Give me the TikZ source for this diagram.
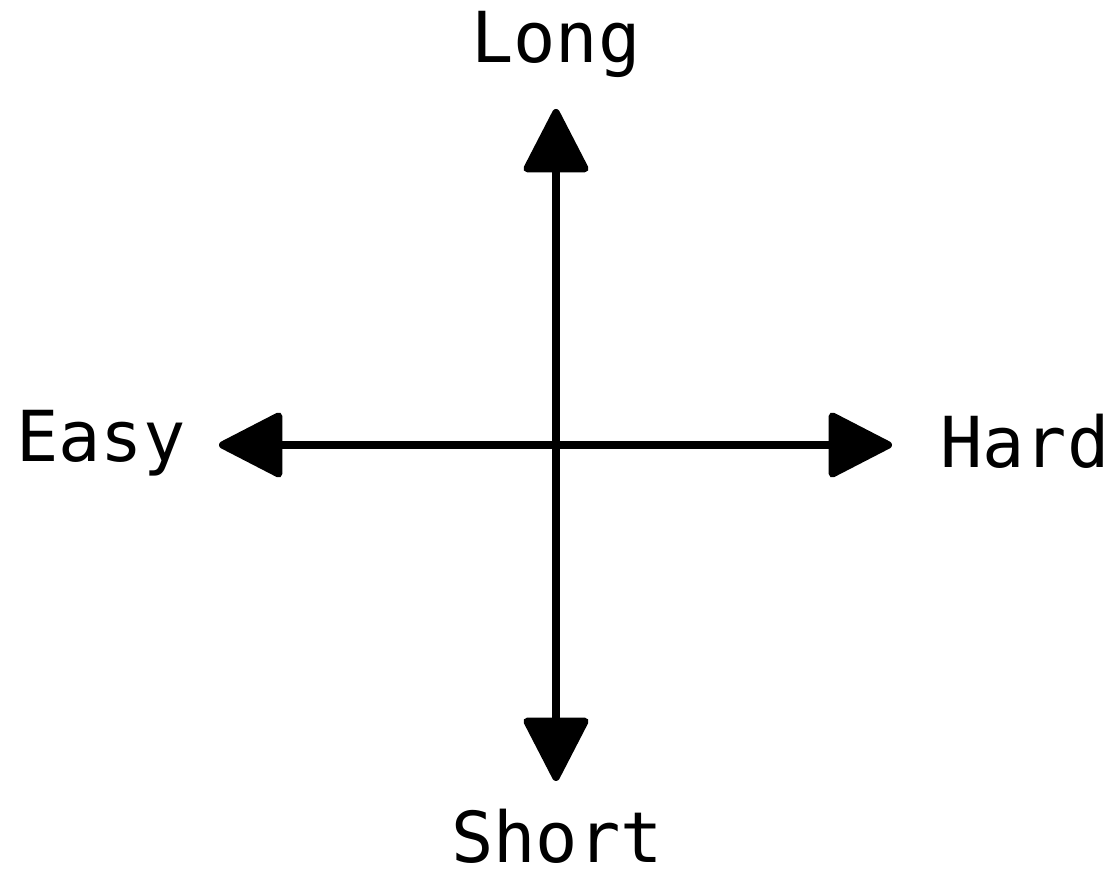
\documentclass[tikz,border=0pt]{standalone}
\usepackage{fontspec}
\setmonofont{DejaVu Sans Mono}
\usetikzlibrary{positioning,arrows.meta}

\begin{document}
\begin{tikzpicture}[
    axis/.style={line width=0.075cm, {Triangle[length=0.68cm, width=0.68cm, round]}-{Triangle[length=0.68cm, width=0.68cm, round]}},
    axislabel/.style={anchor=base, inner sep=0pt, font=\ttfamily\fontsize{20}{24}\selectfont}
]
    \useasboundingbox (0,0) rectangle (11.19,8.70);
    % ends of the two axes
    \coordinate (west) at (2.19,4.25);
    \coordinate (east) at (8.92,4.25);
    \coordinate (north) at (5.56,7.61);
    \coordinate (south) at (5.56,0.89);
    \draw[axis] (west) -- (east);
    \draw[axis] (south) -- (north);
    % labels
    \node[axislabel] (long) at (5.56,8.07) {Long};
    \node[axislabel] (short) at (5.57,0.07) {Short};
    \node[axislabel] (easy) at (1.01,4.08) {Easy};
    \node[axislabel] (hard) at (10.25,4.02) {Hard};
\end{tikzpicture}
\end{document}
